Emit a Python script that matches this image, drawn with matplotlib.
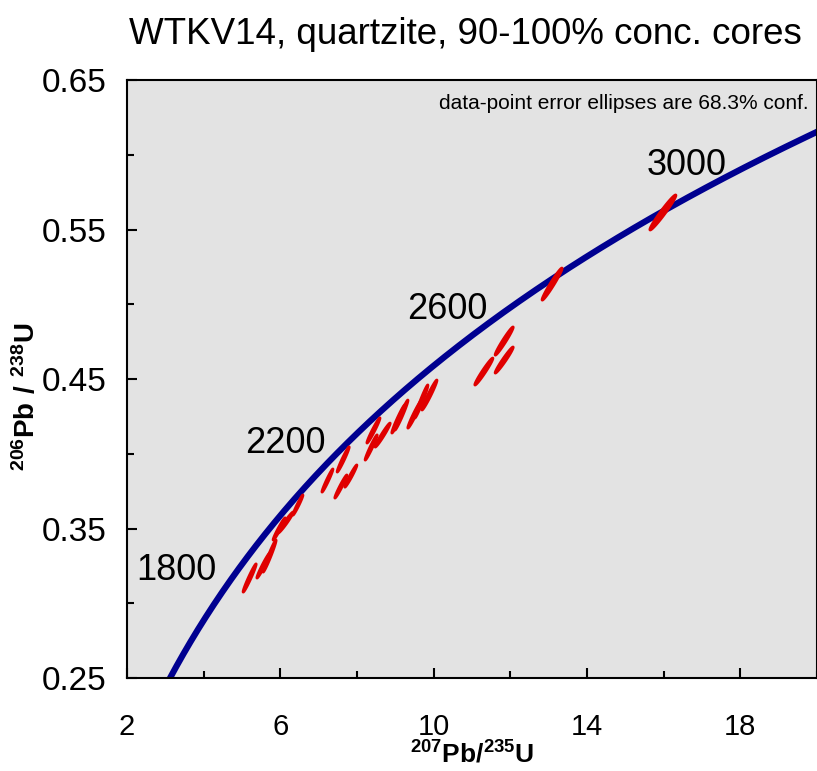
import numpy as np
import matplotlib
matplotlib.use("Agg")
import matplotlib.pyplot as plt
from matplotlib.ticker import MultipleLocator

plt.rcParams['font.family'] = ['Liberation Sans', 'DejaVu Sans']
plt.rcParams['mathtext.fontset'] = 'custom'
plt.rcParams['mathtext.rm'] = 'Liberation Sans'
plt.rcParams['mathtext.bf'] = 'Liberation Sans:bold'

# decay constants (1/yr)
LAMBDA_238 = 1.55125e-10
LAMBDA_235 = 9.8485e-10

# age markers on the concordia (Ma)
age_labels = [1800, 2200, 2600, 3000]

# data points: 207Pb/235U, 206Pb/238U, errors and error correlation
pb207_u235 = [5.20, 5.56, 5.72, 5.97, 6.14, 6.46, 7.23, 7.58, 7.64, 7.84, 8.37,
              8.43, 8.67, 9.08, 9.16, 9.51, 9.68, 9.89, 11.31, 11.84, 11.84,
              13.09, 15.98]
err_207_235 = [0.170, 0.170, 0.170, 0.157, 0.196, 0.130, 0.143, 0.157, 0.157,
               0.157, 0.157, 0.170, 0.196, 0.170, 0.170, 0.183, 0.170, 0.196,
               0.235, 0.235, 0.235, 0.261, 0.339]
pb206_u238 = [0.3169, 0.3253, 0.3316, 0.3497, 0.3540, 0.3657, 0.3821, 0.3781,
              0.3962, 0.3851, 0.4042, 0.4156, 0.4125, 0.4233, 0.4259, 0.4266,
              0.4350, 0.4393, 0.4550, 0.4627, 0.4754, 0.5135, 0.5614]
err_206_238 = [0.0094, 0.0084, 0.0107, 0.0074, 0.0070, 0.0067, 0.0077, 0.0077,
               0.0084, 0.0074, 0.0084, 0.0084, 0.0080, 0.0094, 0.0100, 0.0094,
               0.0110, 0.0100, 0.0090, 0.0087, 0.0094, 0.0107, 0.0117]
rho = [0.975] * len(pb207_u235)

fig = plt.figure(figsize=(8.17, 7.71), dpi=100)
ax = fig.add_axes([0.1554, 0.1206, 0.8446, 0.7756])
ax.set_facecolor('#e3e3e3')

# concordia curve
t = np.linspace(1000e6, 3300e6, 500)
ax.plot(np.exp(LAMBDA_235 * t) - 1, np.exp(LAMBDA_238 * t) - 1,
        color='#000090', lw=4.5, zorder=2, solid_capstyle='butt')

for age in age_labels:
    ta = age * 1e6
    ax.annotate(str(age), (np.exp(LAMBDA_235 * ta) - 1, np.exp(LAMBDA_238 * ta) - 1),
                xytext=(-15, 0), textcoords='offset points',
                ha='right', va='center', fontsize=26, zorder=4)

# error ellipses
theta = np.linspace(0, 2 * np.pi, 100)
for x, sx, y, sy, r in zip(pb207_u235, err_207_235, pb206_u238, err_206_238, rho):
    ex = x + sx * np.cos(theta)
    ey = y + sy * (r * np.cos(theta) + np.sqrt(1 - r ** 2) * np.sin(theta))
    ax.fill(ex, ey, facecolor='#e00000', edgecolor='#e00000', lw=2.0, zorder=3)

ax.set_xlim(2, 20)
ax.set_ylim(0.25, 0.65)
ax.xaxis.set_minor_locator(MultipleLocator(2))
ax.yaxis.set_minor_locator(MultipleLocator(0.05))
ax.set_xticks([2, 6, 10, 14, 18])
ax.set_yticks([0.25, 0.35, 0.45, 0.55, 0.65])
ax.set_yticklabels(['0.25', '0.35', '0.45', '0.55', '0.65'])

ax.tick_params(which='both', direction='in', width=1.5, right=False, top=False)
ax.tick_params(which='major', length=7)
ax.tick_params(which='minor', length=5)
ax.tick_params(axis='x', which='major', labelsize=21, pad=25)
ax.tick_params(axis='y', which='major', labelsize=24, pad=15)
for s in ax.spines.values():
    s.set_linewidth(1.5)

ax.set_xlabel(r'$\mathbf{^{207}Pb/^{235}U}$', fontsize=19)
ax.xaxis.set_label_coords(0.5, -0.105)
ax.set_ylabel(r'$\mathbf{^{206}Pb\ /\ ^{238}U}$', fontsize=20)
ax.yaxis.set_label_coords(-0.125, 0.47)

ax.set_title('WTKV14, quartzite, 90-100% conc. cores', fontsize=26.5, pad=26, x=0.49)
ax.text(0.988, 0.977, 'data-point error ellipses are 68.3% conf.',
        transform=ax.transAxes, ha='right', va='top', fontsize=15)

fig.savefig('out.png', dpi=100)
